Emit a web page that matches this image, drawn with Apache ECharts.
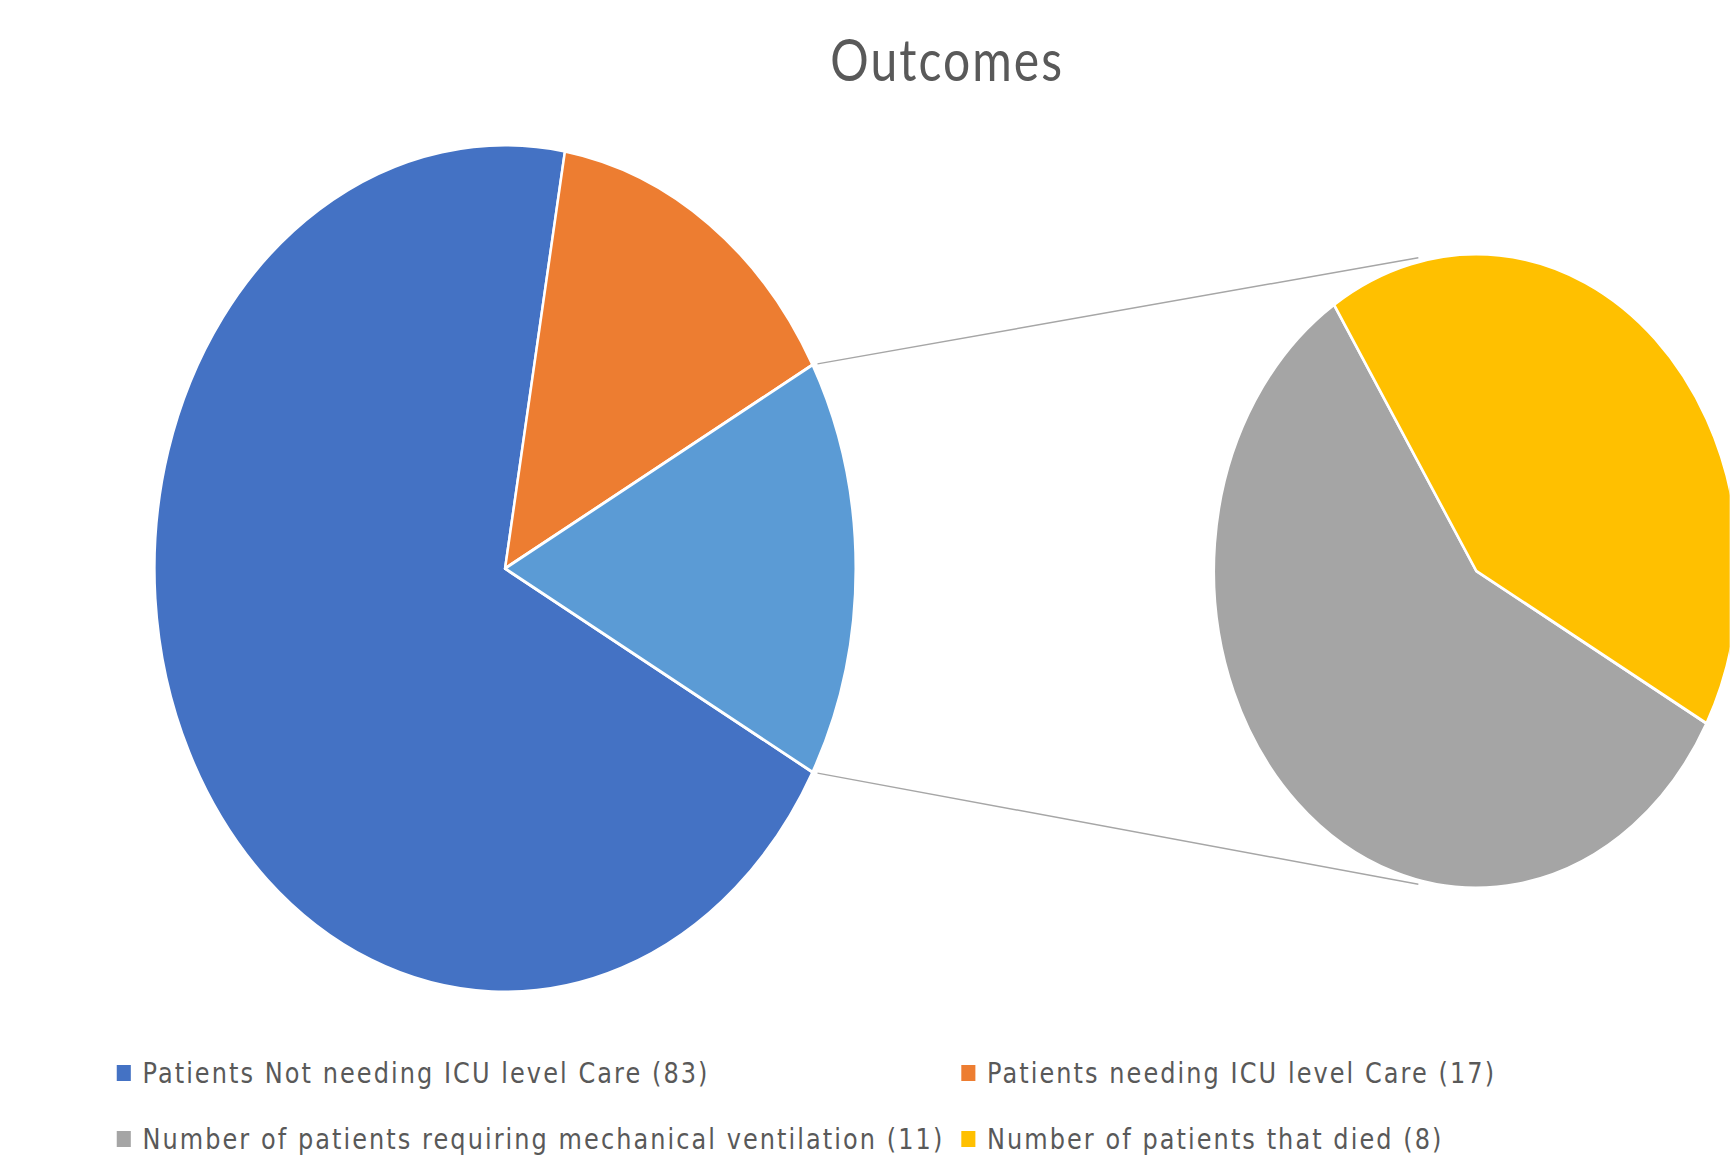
<!DOCTYPE html>
<html>
<head>
<meta charset="utf-8">
<script src="https://cdn.jsdelivr.net/npm/echarts@6/dist/echarts.min.js"></script>
<style>
  html, body { margin: 0; padding: 0; background: #fff; overflow: hidden; }
  #wrap { width: 1730px; height: 1168px; overflow: hidden; position: relative; }
  #chart { width: 2089px; height: 1168px; transform: scaleX(0.828); transform-origin: 0 0; }
  #chart text { letter-spacing: 2.5px; }
</style>
</head>
<body>
<div id="wrap"><div id="chart"></div></div>
<script>
// ---- data ----
const titleText = 'Outcomes';
const mainNames = ['Patients Not needing ICU level Care', 'Patients needing ICU level Care'];
const mainValues = [83, 17];
const subNames = ['Number of patients requiring mechanical ventilation', 'Number of patients that died'];
const subValues = [11, 8];
const mainColors = ['#4472C4', '#ED7D31'];
const otherColor = '#5B9BD5';
const subColors = ['#A5A5A5', '#FFC000'];

// ---- layout (pre-squish coordinates) ----
const MAIN_C = [610, 568.5], MAIN_R = 423.5;
const SUB_C = [1783, 571], SUB_R = 317;

const otherValue = subValues.reduce((a, b) => a + b, 0);
const mainTotal = mainValues.reduce((a, b) => a + b, 0) + otherValue;
const otherSpan = otherValue / mainTotal * 360;
const startAngle = -otherSpan / 2;

const label = (n, v) => n + ' (' + v + ')';
const mainLegendNames = mainNames.map((n, i) => label(n, mainValues[i]));
const subLegendNames = subNames.map((n, i) => label(n, subValues[i]));

const mainData = mainNames.map((n, i) => ({
  name: mainLegendNames[i], value: mainValues[i], itemStyle: { color: mainColors[i] }
})).concat([{ name: 'Other', value: otherValue, itemStyle: { color: otherColor } }]);
const subData = subNames.map((n, i) => ({
  name: subLegendNames[i], value: subValues[i], itemStyle: { color: subColors[i] }
}));

// connector lines from the "other" slice edges to the secondary pie
const rad = d => d * Math.PI / 180;
const a1 = rad(otherSpan / 2), a2 = rad(-otherSpan / 2);
const p1 = [MAIN_C[0] + MAIN_R * Math.cos(a1) + 6, MAIN_C[1] - MAIN_R * Math.sin(a1) - 1];
const p2 = [MAIN_C[0] + MAIN_R * Math.cos(a2) + 6, MAIN_C[1] - MAIN_R * Math.sin(a2) + 1];
const endAng1 = rad(102.6), endAng2 = rad(257.4);
const q1 = [SUB_C[0] + (SUB_R + 4) * Math.cos(endAng1), SUB_C[1] - (SUB_R + 4) * Math.sin(endAng1)];
const q2 = [SUB_C[0] + (SUB_R + 4) * Math.cos(endAng2), SUB_C[1] - (SUB_R + 4) * Math.sin(endAng2)];

const legendText = { color: '#595959', fontSize: 29, lineHeight: 30, fontFamily: 'DejaVu Sans', padding: [0, 0, 0, 8] };

const chart = echarts.init(document.getElementById('chart'), null, { renderer: 'svg' });
chart.setOption({
  animation: false,
  backgroundColor: '#fff',
  title: {
    text: titleText,
    left: 1139, top: 24,
    textAlign: 'center',
    textStyle: { color: '#595959', fontSize: 58, fontWeight: 'normal', fontFamily: 'Lato' }
  },
  legend: [
    {
      orient: 'vertical', left: 134, top: 1053, itemGap: 36,
      itemWidth: 19, itemHeight: 18, icon: 'rect', selectedMode: false,
      data: [mainLegendNames[0], subLegendNames[0]], textStyle: legendText
    },
    {
      orient: 'vertical', left: 1154, top: 1053, itemGap: 36,
      itemWidth: 19, itemHeight: 18, icon: 'rect', selectedMode: false,
      data: [mainLegendNames[1], subLegendNames[1]], textStyle: legendText
    }
  ],
  graphic: [
    { type: 'line', shape: { x1: p1[0], y1: p1[1], x2: q1[0], y2: q1[1] }, style: { stroke: '#A6A6A6', lineWidth: 1.5 }, z: 1 },
    { type: 'line', shape: { x1: p2[0], y1: p2[1], x2: q2[0], y2: q2[1] }, style: { stroke: '#A6A6A6', lineWidth: 1.5 }, z: 1 }
  ],
  series: [
    {
      type: 'pie', center: MAIN_C, radius: [0, MAIN_R],
      startAngle: startAngle, clockwise: true,
      label: { show: false }, labelLine: { show: false },
      emphasis: { disabled: true },
      itemStyle: { borderColor: '#fff', borderWidth: 3 },
      data: mainData
    },
    {
      type: 'pie', center: SUB_C, radius: [0, SUB_R],
      startAngle: startAngle, clockwise: true,
      label: { show: false }, labelLine: { show: false },
      emphasis: { disabled: true },
      itemStyle: { borderColor: '#fff', borderWidth: 3 },
      data: subData
    }
  ]
});
</script>
</body>
</html>
